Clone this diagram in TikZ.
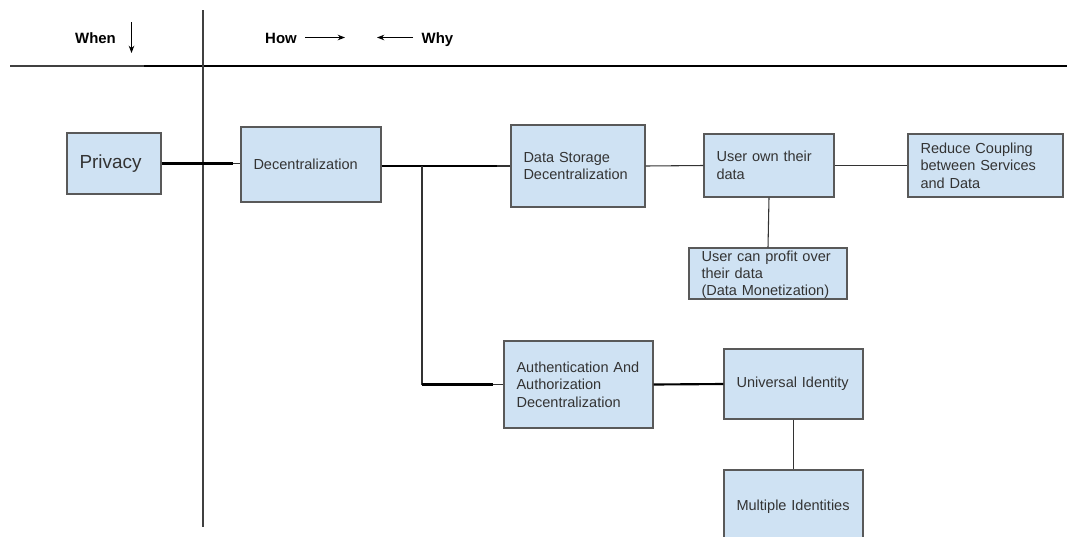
\documentclass[tikz,border=0pt]{standalone}
\usepackage{fontspec}
\setmainfont{Liberation Sans}
\usetikzlibrary{arrows.meta}
\definecolor{boxfill}{HTML}{CFE2F3}
\definecolor{boxline}{HTML}{595959}
\definecolor{ink}{HTML}{333333}
\begin{document}
\begin{tikzpicture}[x=0.75pt,y=-0.75pt,
  box/.style={draw=boxline, line width=0.9pt, fill=boxfill, text=ink,
    align=left, inner xsep=9.4pt, inner ysep=0pt, anchor=center,
    font=\fontsize{10.9}{13.1}\selectfont},
  link/.style={draw=ink, line width=0.8pt},
  boldlink/.style={draw=black, line width=1.6pt},
  thinrule/.style={draw=black!75, line width=0.8pt},
  thickrule/.style={draw=black, line width=1.5pt},
  hdr/.style={font=\bfseries\fontsize{11.2}{13}\selectfont, inner sep=0pt, anchor=base},
  pointer/.style={draw=black, line width=0.75pt, -{Stealth[length=5.5pt,width=4.2pt]}}
]
\useasboundingbox (0,0) rectangle (1067,536);
\clip (0,0) rectangle (1067,536);

% header: axis labels and direction arrows
\node[hdr] (when) at (95.5,43.5) {When};
\coordinate (whenA) at (131.5,22);
\coordinate (whenB) at (131.5,53);
\draw[pointer] (whenA) -- (whenB);
\node[hdr] (how) at (281,43.5) {How};
\coordinate (howA) at (305,37.5);
\coordinate (howB) at (345,37.5);
\draw[pointer] (howA) -- (howB);
\node[hdr] (why) at (437.5,43.5) {Why};
\coordinate (whyA) at (413,37.5);
\coordinate (whyB) at (377,37.5);
\draw[pointer] (whyA) -- (whyB);

% grid rules
\draw[thinrule] (10,66) -- (144,66);
\draw[thickrule] (144,65.5) -- (1067,65.5);
\draw[thinrule] (203,10) -- (203,527);

% boxes
\node[box, minimum width=70.5pt, minimum height=45.75pt, text width=51.75pt,
      font=\fontsize{14.2}{17}\selectfont] (privacy) at (114,163.5) {Privacy};
\node[box, minimum width=105pt, minimum height=56.25pt, text width=86.25pt]
      (dec) at (311,164.5) {Decentralization};
\node[box, minimum width=100.5pt, minimum height=61.5pt, text width=81.75pt]
      (ds) at (578,166) {Data Storage\\Decentralization};
\node[box, minimum width=97.5pt, minimum height=47.25pt, text width=78.75pt]
      (uown) at (769,165.5) {User own their\\data};
\node[box, minimum width=116.25pt, minimum height=47.25pt, text width=97.5pt]
      (reduce) at (985.5,165.5) {Reduce Coupling\\between Services\\and Data};
\node[box, minimum width=118.5pt, minimum height=38.25pt, text width=99.75pt,
      font=\fontsize{10.9}{12.75}\selectfont]
      (profit) at (768,273.5) {User can profit over\\their data\\\smash{(Data Monetization)}};
\node[box, minimum width=111.75pt, minimum height=65.25pt, text width=93pt]
      (auth) at (578.5,384.5) {Authentication And\\Authorization\\Decentralization};
\node[box, minimum width=104.25pt, minimum height=52.5pt, text width=85.5pt]
      (uid) at (793.5,384) {Universal Identity};
\node[box, minimum width=104.25pt, minimum height=54.75pt, text width=85.5pt]
      (multi) at (793.5,506.5) {Multiple Identities};

% connectors
\draw[link] (privacy.east) -- (privacy.east -| dec.west);
\draw[boldlink] (privacy.east) -- ++(71,0);
\draw[link] (ds.west -| dec.east) -- (ds.west);
\draw[boldlink] (ds.west -| dec.east) -- ++(115,0);
\coordinate (split) at (422,166);
\draw[link] (split) |- (auth.west);
\draw[boldlink] (split |- auth.west) -- ++(71,0);
\draw[link] (ds.east) -- (uown.west);
\draw[link] (uown.east) -- (reduce.west);
\draw[link] (uown.south) -- (profit.north);
\draw[boldlink] (auth.east) -- (uid.west);
\draw[link] (uid.south) -- (multi.north);
\end{tikzpicture}
\end{document}
